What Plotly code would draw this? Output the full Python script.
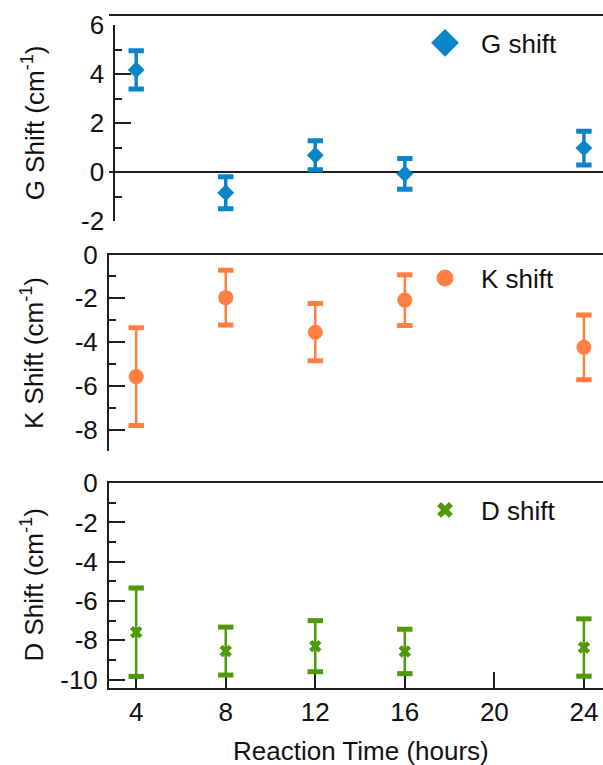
import plotly.graph_objects as go

# ---------------- data ----------------
hours = [4, 8, 12, 16, 24]
g_shift = [4.18, -0.83, 0.70, -0.06, 0.99]
g_err = [0.78, 0.65, 0.59, 0.63, 0.69]
k_shift = [-5.58, -1.97, -3.55, -2.08, -4.24]
k_err = [2.23, 1.25, 1.31, 1.16, 1.48]
d_shift = [-7.59, -8.55, -8.30, -8.57, -8.37]
d_err = [2.25, 1.22, 1.30, 1.13, 1.46]

x_ticks = [4, 8, 12, 16, 20, 24]
g_ticks = [-2, 0, 2, 4, 6]
k_ticks = [-8, -6, -4, -2, 0]
d_ticks = [-10, -8, -6, -4, -2, 0]

series_names = ["G shift", "K shift", "D shift"]
axis_titles = ["G Shift (cm<sup>-1</sup>)", "K Shift (cm<sup>-1</sup>)", "D Shift (cm<sup>-1</sup>)"]
x_title = "Reaction Time (hours)"

# ---------------- styling ----------------
G_COL = "#0A86C8"
K_COL = "#FF7E41"
D_COL = "#4E9A0A"
AX_COL = "#1e1e1e"
FONT = "Liberation Sans, Arial, sans-serif"
FS = 26

W, H = 603, 765
L, R, T, B = 109, 0, 13, 77
PW = W - L - R
PH = H - T - B


def fx(px):
    return (px - L) / PW


def fy(py):
    return (H - B - py) / PH


fig = go.Figure()


def add_panel(ys, errs, col, sym, msize, stem, axn, name, leg, leg_marker):
    xa = "x" if axn == 1 else f"x{axn}"
    ya = "y" if axn == 1 else f"y{axn}"
    # caps
    fig.add_trace(go.Scatter(
        x=hours + hours,
        y=[v + e for v, e in zip(ys, errs)] + [v - e for v, e in zip(ys, errs)],
        mode="markers", xaxis=xa, yaxis=ya, showlegend=False, hoverinfo="skip",
        marker=dict(symbol="line-ew", size=11, line=dict(width=5, color=col), color=col),
    ))
    # points with stems
    fig.add_trace(go.Scatter(
        x=hours, y=ys, mode="markers", xaxis=xa, yaxis=ya, showlegend=False,
        marker=dict(symbol=sym, size=msize, color=col, line=dict(width=0)),
        error_y=dict(type="data", array=errs, visible=True, thickness=stem, width=0, color=col),
    ))
    # legend entry
    fig.add_trace(go.Scatter(
        x=[None], y=[None], mode="markers", xaxis=xa, yaxis=ya, name=name,
        legend=leg, showlegend=True, marker=leg_marker,
    ))


add_panel(g_shift, g_err, G_COL, "diamond", 13, 3.5, 1, series_names[0], "legend",
          dict(symbol="diamond", size=16, color=G_COL, line=dict(width=5, color=G_COL)))
add_panel(k_shift, k_err, K_COL, "circle", 15, 2.5, 2, series_names[1], "legend2",
          dict(symbol="circle", size=16, color=K_COL, line=dict(width=1, color=K_COL)))
add_panel(d_shift, d_err, D_COL, "x", 11, 2.5, 3, series_names[2], "legend3",
          dict(symbol="x", size=14, color=D_COL, line=dict(width=0)))

x_range = [2.785, 24.853]
tickfont = dict(family=FONT, size=FS, color="#111")

common_x = dict(range=x_range, domain=[0, 1], showgrid=False, zeroline=False,
                showline=True, linecolor=AX_COL, linewidth=2, layer="below traces")

fig.update_layout(
    width=W, height=H,
    margin=dict(l=L, r=R, t=T, b=B, pad=0),
    paper_bgcolor="white", plot_bgcolor="white",
    font=dict(family=FONT, size=FS, color="#111"),
    # panel 1 (G)
    xaxis=dict(**common_x, anchor="free", position=1.0, side="top",
               showticklabels=False, ticks=""),
    yaxis=dict(domain=[fy(220), fy(23.3)], range=[-2, 6], anchor="free", position=fx(114.3),
               tickvals=g_ticks, ticktext=[str(v) for v in g_ticks],
               ticks="inside", ticklen=16, tickwidth=2, tickcolor=AX_COL,
               minor=dict(dtick=1, tick0=1, ticks="inside", ticklen=7, tickwidth=2, tickcolor=AX_COL),
               showline=True, linecolor=AX_COL, linewidth=2, showgrid=False,
               zeroline=True, zerolinecolor=AX_COL, zerolinewidth=2,
               tickfont=tickfont, layer="below traces", ticklabelstandoff=4),
    # panel 2 (K)
    xaxis2=dict(**common_x, anchor="y2", side="top", showticklabels=False, ticks=""),
    yaxis2=dict(domain=[fy(450.7), fy(253.3)], range=[-9, 0], anchor="x2",
                tickvals=k_ticks, ticktext=[str(v) for v in k_ticks],
                ticks="inside", ticklen=16, tickwidth=2, tickcolor=AX_COL,
                minor=dict(dtick=2, tick0=1, ticks="inside", ticklen=7, tickwidth=2, tickcolor=AX_COL),
                showline=True, linecolor=AX_COL, linewidth=2, showgrid=False, zeroline=False,
                tickfont=tickfont, layer="below traces", ticklabelstandoff=4),
    # panel 3 (D)
    xaxis3=dict(**common_x, anchor="y3", side="bottom", mirror=True,
                tickvals=x_ticks, ticktext=[str(v) for v in x_ticks],
                ticks="inside", ticklen=16, tickwidth=2, tickcolor=AX_COL,
                tickfont=tickfont),
    yaxis3=dict(domain=[0, fy(482.5)], range=[-10.43, 0], anchor="x3",
                tickvals=d_ticks, ticktext=[str(v) for v in d_ticks],
                ticks="inside", ticklen=16, tickwidth=2, tickcolor=AX_COL,
                minor=dict(dtick=2, tick0=1, ticks="inside", ticklen=7, tickwidth=2, tickcolor=AX_COL),
                showline=True, linecolor=AX_COL, linewidth=2, showgrid=False, zeroline=False,
                tickfont=tickfont, layer="below traces", ticklabelstandoff=4),
    legend=dict(x=fx(409), y=fy(41), xanchor="left", yanchor="middle", itemwidth=62,
                bgcolor="rgba(0,0,0,0)", borderwidth=0, font=dict(family=FONT, size=FS, color="#111")),
    legend2=dict(x=fx(409), y=fy(277), xanchor="left", yanchor="middle", itemwidth=62,
                 bgcolor="rgba(0,0,0,0)", borderwidth=0, font=dict(family=FONT, size=FS, color="#111")),
    legend3=dict(x=fx(409), y=fy(509.5), xanchor="left", yanchor="middle", itemwidth=62,
                 bgcolor="rgba(0,0,0,0)", borderwidth=0, font=dict(family=FONT, size=FS, color="#111")),
    showlegend=True,
)

# axis titles
title_font = dict(family=FONT, size=FS, color="#111")
centers = [(220 + 23.3) / 2, (450.7 + 253.3) / 2, (688 + 482.5) / 2]
for t, cy in zip(axis_titles, centers):
    fig.add_annotation(text=t, textangle=-90, x=fx(33), y=fy(cy), xref="paper", yref="paper",
                       xanchor="center", yanchor="middle", showarrow=False, font=title_font)
fig.add_annotation(text=x_title, x=fx(360.6), y=fy(751), xref="paper", yref="paper",
                   xanchor="center", yanchor="middle", showarrow=False, font=title_font)

fig.write_html(
    "out.html",
    config={"displayModeBar": False},
    post_script="document.body.style.margin='0';document.body.style.overflow='hidden';",
)
